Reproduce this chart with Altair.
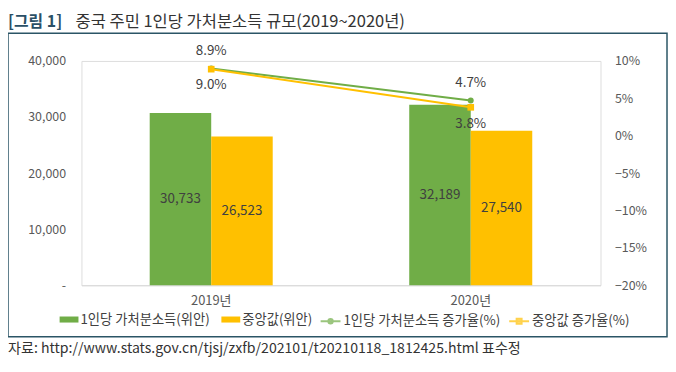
import altair as alt
import pandas as pd

# ---- data ----
years = ["2019년", "2020년"]
income = [30733, 32189]
median = [26523, 27540]
income_growth = [9.0, 4.7]
median_growth = [8.9, 3.8]
bar_names = ["1인당 가처분소득(위안)", "중앙값(위안)"]
line_names = ["1인당 가처분소득 증가율(%)", "중앙값 증가율(%)"]
left_ticks = [0, 10000, 20000, 30000, 40000]
right_ticks = [-20, -15, -10, -5, 0, 5, 10]
title_tag = "[그림 1]"
title_text = "중국 주민 1인당 가처분소득 규모(2019~2020년)"
source_text = "자료: http://www.stats.gov.cn/tjsj/zxfb/202101/t20210118_1812425.html 표수정"

GREEN = "#70AD47"
YELLOW = "#FFC000"
TEAL = "#2A4F66"
BORDER = "#2B5566"
TXT = "#404040"
AX = "#595959"
FONT = "Noto Sans CJK KR"

bars_df = pd.DataFrame({
    "year": years * 2,
    "series": [bar_names[0]] * 2 + [bar_names[1]] * 2,
    "value": income + median,
})
lines_df = pd.DataFrame({
    "year": years * 2,
    "series": [line_names[0]] * 2 + [line_names[1]] * 2,
    "rate": income_growth + median_growth,
})
one = pd.DataFrame({"k": [0]})

xscale = alt.Scale(domain=years, paddingInner=0.526, paddingOuter=0.263)
xaxis = alt.Axis(title=None, labelAngle=0, ticks=False, domainColor="#D9D9D9",
                 domainWidth=1, labelColor=AX, labelFontSize=13, labelPadding=9,
                 labelFont=FONT, grid=False)
xenc = alt.X("year:N", scale=xscale, axis=xaxis)

lscale = alt.Scale(domain=[0, 40000], nice=False)
laxis = alt.Axis(orient="left", values=left_ticks, title=None, ticks=False, domain=False,
                 grid=False, labelPadding=16, labelColor=AX, labelFontSize=12.5, labelFont=FONT,
                 labelExpr="datum.value == 0 ? '-' : format(datum.value, ',')")
rscale = alt.Scale(domain=[-20, 10], nice=False)
raxis = alt.Axis(orient="right", values=right_ticks, title=None, ticks=False, domain=False,
                 grid=False, labelPadding=14, labelColor=AX, labelFontSize=12.5, labelFont=FONT,
                 labelExpr="replace(datum.value + '%', '-', '\u2212')")

LEG_FS = 13.4
bar_color = alt.Color("series:N", scale=alt.Scale(domain=bar_names, range=[GREEN, YELLOW]),
                      legend=alt.Legend(orient="none", legendX=-22, legendY=251, direction="horizontal",
                                        title=None, symbolType="M-1,-0.32H1V0.32H-1Z", symbolSize=361,
                                        symbolStrokeWidth=0, labelFontSize=LEG_FS, labelColor=TXT,
                                        labelFont=FONT, labelOffset=2, columnPadding=11, padding=0,
                                        labelLimit=400))
xoff = alt.XOffset("series:N", scale=alt.Scale(domain=bar_names, paddingInner=0, paddingOuter=0))

bars = alt.Chart(bars_df).mark_bar().encode(
    x=xenc, xOffset=xoff, y=alt.Y("value:Q", scale=lscale, axis=laxis), color=bar_color)

bar_text = alt.Chart(bars_df).transform_calculate(mid="datum.value / 2").mark_text(
    fontSize=13.5, color=TXT, font=FONT, baseline="middle").encode(
    x=xenc, xOffset=xoff, y=alt.Y("mid:Q", scale=lscale, axis=laxis),
    text=alt.Text("value:Q", format=","))

border = alt.Chart(one).mark_rect(fill="transparent", stroke=BORDER, strokeWidth=1.5).encode(
    x=alt.value(-74), x2=alt.value(590), y=alt.value(-28), y2=alt.value(278))

t1 = alt.Chart(one).mark_text(align="left", baseline="middle", fontSize=16, fontWeight="bold",
                              color=TEAL, font=FONT).encode(
    x=alt.value(-74), y=alt.value(-39), text=alt.value(title_tag))
t2 = alt.Chart(one).mark_text(align="left", baseline="middle", fontSize=16.6, color="#333333",
                              font=FONT).encode(
    x=alt.value(-6), y=alt.value(-39), text=alt.value(title_text))
src = alt.Chart(one).mark_text(align="left", baseline="middle", fontSize=14.2, color="#333333",
                               font=FONT).encode(
    x=alt.value(-74), y=alt.value(290), text=alt.value(source_text))

left = alt.layer(border, bars, bar_text, t1, t2, src)

line_color = alt.Color("series:N", scale=alt.Scale(domain=line_names, range=[GREEN, YELLOW]), legend=None)
ry = alt.Y("rate:Q", scale=rscale, axis=raxis)

lines = alt.Chart(lines_df).mark_line(strokeWidth=2).encode(
    x=xenc, y=ry, color=line_color, detail="series:N")
pts_g = alt.Chart(lines_df).transform_filter(alt.datum.series == line_names[0]).mark_point(
    shape="circle", filled=True, size=36, opacity=1).encode(x=xenc, y=ry, color=line_color)
pts_y = alt.Chart(lines_df).transform_filter(alt.datum.series == line_names[1]).mark_point(
    shape="square", filled=True, size=45, opacity=1).encode(x=xenc, y=ry, color=line_color)

above_expr = (f"(datum.series == '{line_names[0]}' && datum.year == '{years[1]}') || "
              f"(datum.series == '{line_names[1]}' && datum.year == '{years[0]}')")
lab_base = alt.Chart(lines_df).transform_calculate(label="format(datum.rate, '.1f') + '%'")
lab_above = lab_base.transform_filter(above_expr).mark_text(
    fontSize=13.5, color=TXT, font=FONT, baseline="middle", dy=-18).encode(x=xenc, y=ry, text="label:N")
lab_below = lab_base.transform_filter(f"!({above_expr})").mark_text(
    fontSize=13.5, color=TXT, font=FONT, baseline="middle", dy=17).encode(x=xenc, y=ry, text="label:N")

circle_path = "M-1,0H1M0.22,0A0.22,0.22,0,1,1,-0.22,0A0.22,0.22,0,1,1,0.22,0Z"
square_path = "M-1,0H1M-0.25,-0.25H0.25V0.25H-0.25Z"
lleg = alt.Legend(orient="none", legendX=240, legendY=251, direction="horizontal", title=None,
                  symbolSize=400, symbolStrokeWidth=2, labelFontSize=LEG_FS, labelColor=TXT,
                  labelFont=FONT, labelOffset=2, columnPadding=4, padding=0, labelLimit=400)
legend_layer = alt.Chart(lines_df).transform_filter("false").mark_point(filled=True).encode(
    fill=alt.Fill("series:N", scale=alt.Scale(domain=line_names, range=[GREEN, YELLOW]), legend=lleg),
    stroke=alt.Stroke("series:N", scale=alt.Scale(domain=line_names, range=[GREEN, YELLOW]), legend=lleg),
    shape=alt.Shape("series:N", scale=alt.Scale(domain=line_names, range=[circle_path, square_path]), legend=lleg),
)

right = alt.layer(lines, pts_g, pts_y, lab_above, lab_below, legend_layer)

chart = alt.layer(left, right).resolve_scale(y="independent", color="independent").properties(
    width=523, height=226,
    padding={"left": 74, "top": 52, "right": 68, "bottom": 76},
    autosize=alt.AutoSizeParams(type="none"),
).configure_view(stroke=None).configure(font=FONT)

chart.save("out.html", embed_options={"renderer": "svg", "actions": False})
